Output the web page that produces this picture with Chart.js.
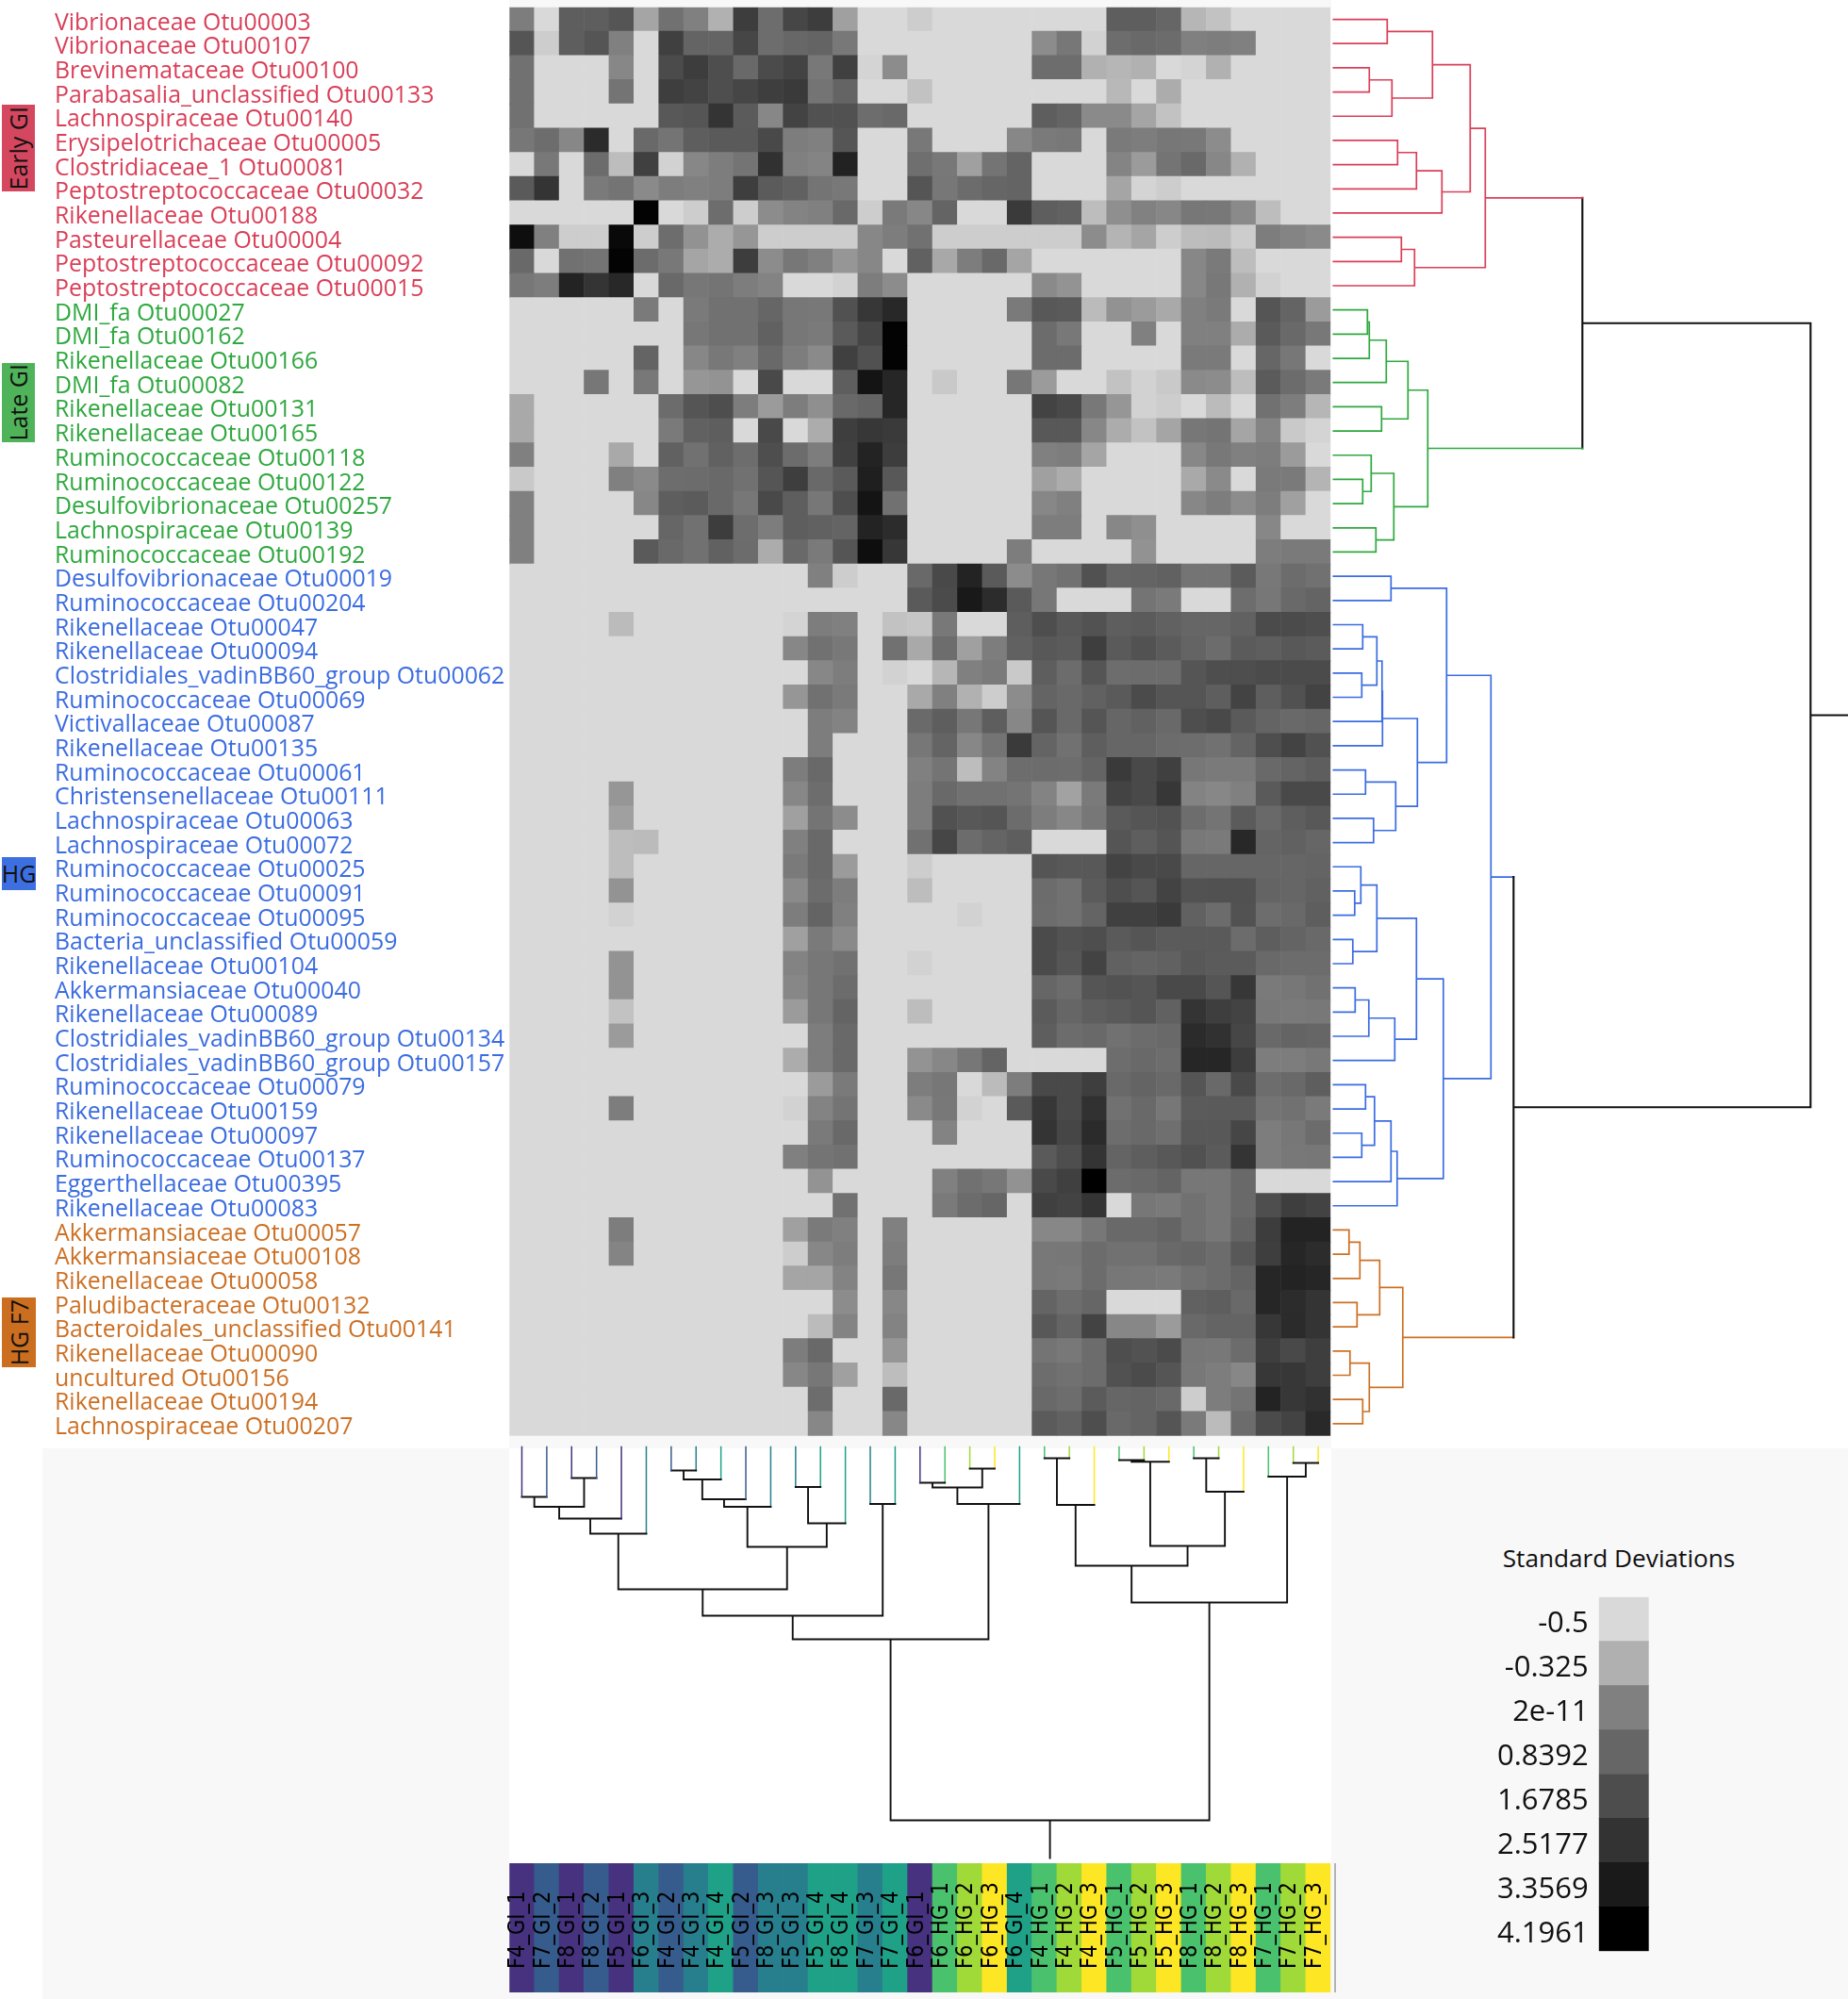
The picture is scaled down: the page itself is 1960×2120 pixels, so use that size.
<!DOCTYPE html>
<html>
<head>
<meta charset="utf-8">
<title>Heatmap</title>
<script src="https://cdn.jsdelivr.net/npm/chart.js@4"></script>
<style>
    html, body { margin: 0; padding: 0; background: #fff; }
    #page { position: relative; width: 1960px; height: 2120px; overflow: hidden; font-family: "Open Sans", sans-serif; color: #111; }
    #page > div, #page > canvas { position: absolute; }
    .tag { display: flex; align-items: center; justify-content: center; font-size: 25px; color: #111; line-height: 1; }
    .rot { writing-mode: vertical-rl; transform: rotate(180deg); }
</style>
</head>
<body>
<div id="page">
    <div style="left:45px;top:1536px;width:1915px;height:584px;background:#f8f8f8"></div>
    <div style="left:540px;top:0;width:872px;height:8px;background:#f8f8f8"></div>
    <div style="left:540px;top:1523px;width:872px;height:13px;background:#f8f8f8"></div>
    <div style="left:540px;top:1536px;width:872px;height:440px;background:#fff"></div>
    <div style="left:1415px;top:1976px;width:2px;height:137px;background:#b4b4b4"></div>

    <div class="tag" style="left:2px;top:111px;width:35px;height:92px;background:#d4475f"><span class="rot">Early GI</span></div>
    <div class="tag" style="left:2px;top:385px;width:35px;height:84px;background:#4fb35a"><span class="rot">Late GI</span></div>
    <div class="tag" style="left:2px;top:909px;width:36px;height:35px;background:#3d6fe0">HG</div>
    <div class="tag" style="left:2px;top:1376px;width:36px;height:74px;background:#cc6e1f"><span class="rot">HG F7</span></div>

    <div style="left:1571px;top:1635px;width:292px;text-align:center;font-size:26.2px;line-height:34px;color:#111">Standard Deviations</div>

    <canvas id="heat" width="1412" height="1530" style="left:0;top:0"></canvas>
    <canvas id="rowTree" width="548" height="1530" style="left:1412px;top:0"></canvas>
    <canvas id="colTree" width="890" height="446" style="left:530px;top:1530px"></canvas>
    <canvas id="strip" width="890" height="150" style="left:530px;top:1970px"></canvas>
    <canvas id="legend" width="220" height="400" style="left:1540px;top:1680px"></canvas>
</div>
<script>
const rowLabels = [
    'Vibrionaceae Otu00003', 'Vibrionaceae Otu00107', 'Brevinemataceae Otu00100', 'Parabasalia_unclassified Otu00133',
    'Lachnospiraceae Otu00140', 'Erysipelotrichaceae Otu00005', 'Clostridiaceae_1 Otu00081', 'Peptostreptococcaceae Otu00032',
    'Rikenellaceae Otu00188', 'Pasteurellaceae Otu00004', 'Peptostreptococcaceae Otu00092', 'Peptostreptococcaceae Otu00015',
    'DMI_fa Otu00027', 'DMI_fa Otu00162', 'Rikenellaceae Otu00166', 'DMI_fa Otu00082', 'Rikenellaceae Otu00131',
    'Rikenellaceae Otu00165', 'Ruminococcaceae Otu00118', 'Ruminococcaceae Otu00122', 'Desulfovibrionaceae Otu00257',
    'Lachnospiraceae Otu00139', 'Ruminococcaceae Otu00192',
    'Desulfovibrionaceae Otu00019', 'Ruminococcaceae Otu00204', 'Rikenellaceae Otu00047', 'Rikenellaceae Otu00094',
    'Clostridiales_vadinBB60_group Otu00062', 'Ruminococcaceae Otu00069', 'Victivallaceae Otu00087', 'Rikenellaceae Otu00135',
    'Ruminococcaceae Otu00061', 'Christensenellaceae Otu00111', 'Lachnospiraceae Otu00063', 'Lachnospiraceae Otu00072',
    'Ruminococcaceae Otu00025', 'Ruminococcaceae Otu00091', 'Ruminococcaceae Otu00095', 'Bacteria_unclassified Otu00059',
    'Rikenellaceae Otu00104', 'Akkermansiaceae Otu00040', 'Rikenellaceae Otu00089', 'Clostridiales_vadinBB60_group Otu00134',
    'Clostridiales_vadinBB60_group Otu00157', 'Ruminococcaceae Otu00079', 'Rikenellaceae Otu00159', 'Rikenellaceae Otu00097',
    'Ruminococcaceae Otu00137', 'Eggerthellaceae Otu00395', 'Rikenellaceae Otu00083',
    'Akkermansiaceae Otu00057', 'Akkermansiaceae Otu00108', 'Rikenellaceae Otu00058', 'Paludibacteraceae Otu00132',
    'Bacteroidales_unclassified Otu00141', 'Rikenellaceae Otu00090', 'uncultured Otu00156', 'Rikenellaceae Otu00194',
    'Lachnospiraceae Otu00207'
];
const rowGroupSizes = [12, 11, 27, 9];
const groupColors = ['#d93f58', '#2fa83f', '#3b6ce0', '#cc7024'];

const sampleLabels = [
    'F4_GI_1', 'F7_GI_2', 'F8_GI_1', 'F8_GI_2', 'F5_GI_1', 'F6_GI_3', 'F4_GI_2', 'F4_GI_3', 'F4_GI_4', 'F5_GI_2', 'F8_GI_3',
    'F5_GI_3', 'F5_GI_4', 'F8_GI_4', 'F7_GI_3', 'F7_GI_4', 'F6_GI_1', 'F6_HG_1', 'F6_HG_2', 'F6_HG_3', 'F6_GI_4', 'F4_HG_1',
    'F4_HG_2', 'F4_HG_3', 'F5_HG_1', 'F5_HG_2', 'F5_HG_3', 'F8_HG_1', 'F8_HG_2', 'F8_HG_3', 'F7_HG_1', 'F7_HG_2', 'F7_HG_3'
];
const sampleColors = {
    GI_1: '#46327e', GI_2: '#365c8d', GI_3: '#277f8e', GI_4: '#1fa187',
    HG_1: '#4ac16d', HG_2: '#a0da39', HG_3: '#fde725'
};

const legendLabels = ['-0.5', '-0.325', '2e-11', '0.8392', '1.6785', '2.5177', '3.3569', '4.1961'];
const legendValues = [-0.5, -0.325, 2e-11, 0.8392, 1.6785, 2.5177, 3.3569, 4.1961];
const legendGreys = [217, 176, 128, 102, 77, 51, 26, 0];

// standard deviations per otu (rows) and sample (columns)
const heatValues = [
    [.1,-.5,1.1,1.1,1.4,-.25,.5,0,-.33,2.2,.6,1.9,2.2,-.22,-.5,-.5,-.45,-.5,-.5,-.5,-.5,-.5,-.5,-.5,1.1,1.1,.85,-.35,-.4,-.5,-.5,-.5,-.5],
    [1.4,-.45,1.1,1.4,0,-.5,2.1,.9,.9,1.9,.6,.8,.9,.25,-.5,-.5,-.5,-.5,-.5,-.5,-.5,-.08,.3,-.47,.6,.75,.65,0,.1,0,-.5,-.5,-.5],
    [.5,-.5,-.5,-.5,-.05,-.5,1.75,2.2,1.65,.75,1.75,2,.25,2.1,-.48,-.08,-.5,-.5,-.5,-.5,-.5,.6,.6,-.33,-.35,-.33,-.5,-.48,-.33,-.5,-.5,-.5,-.5],
    [.5,-.5,-.5,-.5,.4,-.5,2.15,2,1.65,1.9,2.15,2.3,.4,.9,-.5,-.5,-.4,-.5,-.5,-.5,-.5,-.5,-.5,-.5,-.36,-.5,-.3,-.5,-.5,-.5,-.5,-.5,-.5],
    [.5,-.5,-.5,-.5,-.5,-.5,1.3,1.4,2.5,1.2,-.05,2,1.55,1.55,.6,.75,-.5,-.5,-.5,-.5,-.5,1.1,.9,-.07,-.07,-.25,-.4,-.5,-.5,-.5,-.5,-.5,-.5],
    [.3,.6,-.05,2.8,-.5,.75,.4,1.1,1.25,1.25,1.8,.1,0,1.4,-.5,-.5,.25,-.5,-.5,-.5,-.05,.2,.25,-.5,.2,.1,.3,.25,-.08,-.5,-.5,-.5,-.5],
    [-.5,.25,-.5,.65,-.38,2.1,-.47,-.05,.1,.4,2.6,0,-.03,3.1,-.5,-.5,.55,.25,-.22,.4,.9,-.5,-.5,-.5,-.03,-.18,.4,.75,-.05,-.33,-.5,-.5,-.5],
    [1.25,2.5,-.5,.2,.4,-.07,.1,0,.1,2.15,1.2,1,.4,.25,-.5,-.5,1.4,.3,.65,.85,.9,-.5,-.5,-.5,-.25,-.48,-.45,-.5,-.5,-.5,-.5,-.5,-.5],
    [-.5,-.5,-.5,-.5,-.5,4.1,-.5,-.45,.6,-.45,-.08,-.02,0,.75,-.45,.2,-.05,.9,-.5,-.5,2.3,1.1,1,-.38,-.1,-.01,-.05,.3,.25,-.07,-.38,-.5,-.5],
    [3.75,0,-.45,-.45,3.9,-.45,.6,-.12,-.3,-.15,-.45,-.45,-.45,-.45,-.05,.1,.5,-.45,-.45,-.45,-.45,-.45,-.45,-.08,-.34,-.25,-.45,-.38,-.37,-.45,.1,-.03,-.07],
    [.75,-.5,.5,.4,4.1,.65,.25,-.25,-.3,2.2,-.08,.3,0,-.15,-.05,-.5,1,-.27,.1,.75,-.25,-.5,-.5,-.5,-.5,-.5,-.5,-.05,.2,-.38,-.5,-.5,-.5],
    [.3,.1,3.05,2.5,2.9,-.5,.75,.3,.4,.1,-.02,-.5,-.5,-.47,.1,-.08,-.5,-.5,-.5,-.5,-.5,-.07,-.13,-.5,-.5,-.5,-.5,-.05,.25,-.33,-.47,-.5,-.5],
    [-.5,-.5,-.5,-.5,-.5,.2,-.5,.2,.5,.5,.85,.3,.25,1.55,2.4,2.9,-.5,-.5,-.5,-.5,.2,1.3,1.25,-.37,-.12,-.18,-.28,0,.2,-.5,1.4,.9,-.18],
    [-.5,-.5,-.5,-.5,-.5,-.5,-.5,.3,.5,.5,1,.3,.2,1.25,1.9,4.1,-.5,-.5,-.5,-.5,-.5,.65,.25,-.5,-.5,0,-.5,0,0,-.3,1.25,.75,.25],
    [-.5,-.5,-.5,-.5,-.5,.9,-.5,-.05,.25,0,.75,.1,-.07,2.1,1.55,4.1,-.5,-.5,-.5,-.5,-.5,.65,.65,-.5,-.5,-.5,-.5,.2,.2,-.5,.85,.3,-.5],
    [-.5,-.5,-.5,.3,-.5,.25,-.5,-.15,-.13,-.5,1.8,-.5,-.5,1.1,3.55,2.95,-.5,-.43,-.5,-.5,.3,-.18,-.5,-.5,-.4,-.47,-.43,-.07,-.08,-.38,1.2,.65,.2],
    [-.28,-.5,-.5,-.5,-.5,-.5,.65,1.4,1.65,.1,-.18,.1,-.1,.75,.9,2.95,-.5,-.5,-.5,-.5,-.5,2,1.8,.25,-.15,-.47,-.45,-.5,-.37,-.5,.5,.1,-.35],
    [-.28,-.5,-.5,-.5,-.5,-.5,.2,1,1.1,-.5,1.8,-.5,-.3,2.15,2.4,2.3,-.5,-.5,-.5,-.5,-.5,1.3,1.3,-.05,-.3,-.4,-.25,.3,.4,-.25,-.03,-.43,-.48],
    [0,-.5,-.5,-.5,-.28,-.5,1,.5,1,.6,1.65,.65,.1,2.1,3.05,2.2,-.5,-.5,-.5,-.5,-.5,0,.1,-.25,-.5,-.5,-.5,-.05,.25,0,.1,-.18,-.5],
    [-.43,-.5,-.5,-.5,0,-.07,.6,.65,.75,.5,1.4,2.15,.75,1.25,3.2,1.3,-.5,-.5,-.5,-.5,-.5,-.22,-.3,-.5,-.5,-.5,-.5,-.28,-.07,-.5,.2,.2,-.34],
    [0,-.5,-.5,-.5,-.5,-.05,1.1,1.2,.75,.3,1.8,1.1,.3,1.65,3.55,.5,-.5,-.5,-.5,-.5,-.5,-.05,0,-.5,-.5,-.5,-.5,-.05,.1,-.08,.1,-.22,-.5],
    [0,-.5,-.5,-.5,-.5,-.5,.85,.5,2.2,.6,.1,1.1,1,.9,3.05,2.75,-.5,-.5,-.5,-.5,-.5,.1,.1,-.5,-.05,-.1,-.5,-.5,-.5,-.5,-.05,-.5,-.5],
    [0,-.5,-.5,-.5,-.5,1.25,.75,.5,1,.65,-.3,.75,.2,1.4,3.75,2.4,-.5,-.5,-.5,-.5,.1,-.5,-.5,-.5,-.5,-.12,-.5,-.5,-.5,-.5,.1,.2,.2],
    [-.5,-.5,-.5,-.5,-.5,-.5,-.5,-.5,-.5,-.5,-.5,-.5,0,-.45,-.5,-.5,.75,1.8,3.05,1.25,-.08,.3,.5,1.55,.85,.9,1,.4,.4,1.2,.25,.65,.5],
    [-.5,-.5,-.5,-.5,-.5,-.5,-.5,-.5,-.5,-.5,-.5,-.5,-.5,-.5,-.5,-.5,1.25,1.75,3.4,2.75,1.25,.3,-.5,-.5,-.5,.4,.2,-.5,-.5,.6,.3,.75,.9],
    [-.5,-.5,-.5,-.5,-.37,-.5,-.5,-.5,-.5,-.5,-.5,-.48,.1,0,-.5,-.4,-.42,.25,-.5,-.5,1.1,1.65,1.3,1.5,1.1,1.2,1,.85,.85,1,1.75,1.75,1.65],
    [-.5,-.5,-.5,-.5,-.5,-.5,-.5,-.5,-.5,-.5,-.5,-.05,.5,.25,-.5,.5,-.28,.6,-.22,.1,1,1.3,1.2,2.15,1.25,1.5,1.2,.9,.65,1.2,1.1,1.3,1.2],
    [-.5,-.5,-.5,-.5,-.5,-.5,-.5,-.5,-.5,-.5,-.5,-.5,-.05,.1,-.5,-.47,-.5,-.35,0,.2,-.43,1.1,.65,1.4,.6,.65,.65,1.4,1.65,1.65,1.75,1.75,1.75],
    [-.5,-.5,-.5,-.5,-.5,-.5,-.5,-.5,-.5,-.5,-.5,-.15,.5,.2,-.5,-.5,-.28,0,-.33,-.45,-.08,.9,.75,1,1.25,1.75,1.4,1.4,1.1,2,1.1,1.55,2],
    [-.5,-.5,-.5,-.5,-.5,-.5,-.5,-.5,-.5,-.5,-.5,-.5,.1,-.02,-.5,-.5,.7,1.1,.3,1.1,-.05,1.4,.75,1.4,.85,1,.75,1.65,1.8,1.25,.9,.75,.85],
    [-.5,-.5,-.5,-.5,-.5,-.5,-.5,-.5,-.5,-.5,-.5,-.5,.1,-.5,-.5,-.5,.3,.9,-.05,.4,2.3,.9,.5,1.1,.85,.85,.65,.6,.5,.9,1.65,2,1.55],
    [-.5,-.5,-.5,-.5,-.5,-.5,-.5,-.5,-.5,-.5,-.5,.1,.75,-.5,-.5,-.5,0,.4,-.38,-.02,.6,.65,.6,.9,2.3,1.8,2.1,.3,.2,.2,.75,.9,1.1],
    [-.5,-.5,-.5,-.5,-.15,-.5,-.5,-.5,-.5,-.5,-.5,-.05,.6,-.5,-.5,-.5,.1,.75,.5,.5,.4,-.02,-.23,.2,2,1.8,2.4,-.02,-.05,0,1.25,1.8,1.8],
    [-.5,-.5,-.5,-.5,-.22,-.5,-.5,-.5,-.5,-.5,-.5,-.22,.4,-.08,-.5,-.5,.1,1.55,1.3,1.4,.65,.1,-.05,.3,1.25,1.4,1.5,.6,.4,1.2,.75,1.1,1.3],
    [-.5,-.5,-.5,-.5,-.38,-.37,-.5,-.5,-.5,-.5,-.5,0,.75,-.5,-.5,-.5,.5,1.9,.65,.9,1.1,-.5,-.5,-.5,1.4,1.1,1.4,.25,.2,2.9,.9,1,.85],
    [-.5,-.5,-.5,-.5,-.38,-.5,-.5,-.5,-.5,-.5,-.5,.2,.75,-.18,-.5,-.5,-.45,-.5,-.5,-.5,-.5,1.4,1.3,1.3,2,1.8,1.8,.85,.85,.85,.85,.85,.9],
    [-.5,-.5,-.5,-.5,-.13,-.5,-.5,-.5,-.5,-.5,-.5,-.07,.65,.1,-.5,-.5,-.38,-.5,-.5,-.5,-.5,.65,.5,1.2,1.65,1.4,2,1.5,1.55,1.55,.9,.85,1],
    [-.5,-.5,-.5,-.5,-.47,-.5,-.5,-.5,-.5,-.5,-.5,.1,.9,0,-.5,-.5,-.5,-.5,-.47,-.5,-.5,.6,.5,.9,2.1,2.1,2.3,1,.65,1.5,.6,.75,1.1],
    [-.5,-.5,-.5,-.5,-.5,-.5,-.5,-.5,-.5,-.5,-.5,-.22,.2,-.07,-.5,-.5,-.5,-.5,-.5,-.5,-.5,1.75,1.5,1.65,1.25,1.4,1.2,1.25,1.25,.65,1.1,.9,.75],
    [-.5,-.5,-.5,-.5,-.13,-.5,-.5,-.5,-.5,-.5,-.5,-.02,.3,.5,-.5,-.5,-.47,-.5,-.5,-.5,-.5,1.75,1.4,2,1,.9,1,1.3,1.2,1.2,.75,.65,.65],
    [-.5,-.5,-.5,-.5,-.13,-.5,-.5,-.5,-.5,-.5,-.5,-.05,.3,.65,-.5,-.5,-.5,-.5,-.5,-.5,-.5,.85,.65,1.4,1.5,1.4,1.8,1.8,1.4,2.4,.2,.3,.5],
    [-.5,-.5,-.5,-.5,-.4,-.5,-.5,-.5,-.5,-.5,-.5,-.18,.3,.9,-.5,-.5,-.38,-.5,-.5,-.5,-.5,1.2,.85,1.1,1.25,1.4,1,2.5,2.15,2,.25,.2,.25],
    [-.5,-.5,-.5,-.5,-.18,-.5,-.5,-.5,-.5,-.5,-.5,-.5,.1,.75,-.5,-.5,-.5,-.5,-.5,-.5,-.5,1.1,.65,.75,.5,.65,.75,2.8,2.6,1.9,.75,.9,.85],
    [-.5,-.5,-.5,-.5,-.5,-.5,-.5,-.5,-.5,-.5,-.5,-.3,.1,.75,-.5,-.5,-.13,-.05,.3,.9,-.5,-.5,-.5,-.5,.6,.75,.6,2.95,2.95,2.2,.1,.1,.25],
    [-.5,-.5,-.5,-.5,-.5,-.5,-.5,-.5,-.5,-.5,-.5,-.5,-.18,.2,-.5,-.5,.1,.3,-.5,-.37,.1,1.8,1.8,2.15,.75,.9,.75,1.4,.75,1.8,.6,.75,1.1],
    [-.5,-.5,-.5,-.5,.1,-.5,-.5,-.5,-.5,-.5,-.5,-.47,-.02,.4,-.5,-.5,-.07,.25,-.47,-.5,1.25,2.4,1.8,2.6,.5,.75,.3,1.2,1.25,1.25,.4,.5,.2],
    [-.5,-.5,-.5,-.5,-.5,-.5,-.5,-.5,-.5,-.5,-.5,-.5,.2,.75,-.5,-.5,-.5,-.02,-.5,-.5,-.5,2.5,1.9,2.8,.6,.75,.55,1.3,1.3,1.9,.1,.3,.65],
    [-.5,-.5,-.5,-.5,-.5,-.5,-.5,-.5,-.5,-.5,-.5,0,.4,.5,-.5,-.5,-.5,-.5,-.5,-.5,-.5,1.25,1.65,2.5,.9,1.1,1.3,1.55,1.2,2.5,.1,.25,.3],
    [-.5,-.5,-.5,-.5,-.5,-.5,-.5,-.5,-.5,-.5,-.5,-.5,-.13,-.5,-.5,-.5,-.5,0,.5,.3,-.12,1.8,2.1,4.2,.65,.75,.9,.3,.3,.75,-.5,-.5,-.5],
    [-.5,-.5,-.5,-.5,-.5,-.5,-.5,-.5,-.5,-.5,-.5,-.5,-.5,.5,-.5,-.5,-.5,.2,.65,.85,-.5,2.1,2,2.5,-.5,.3,.2,.5,.3,.75,1.65,2.15,2],
    [-.5,-.5,-.5,-.5,.1,-.5,-.5,-.5,-.5,-.5,-.5,-.22,.2,0,-.5,0,-.5,-.5,-.5,-.5,-.5,-.05,-.05,.3,.75,.75,.9,.5,.3,.9,2.2,3.05,3.05],
    [-.5,-.5,-.5,-.5,-.03,-.5,-.5,-.5,-.5,-.5,-.5,-.45,-.05,.1,-.5,.1,-.5,-.5,-.5,-.5,-.5,.25,.3,.65,.5,.5,.75,.85,.65,1.3,2.15,2.95,2.75],
    [-.5,-.5,-.5,-.5,-.5,-.5,-.5,-.5,-.5,-.5,-.5,-.25,-.25,-.02,-.5,.3,-.5,-.5,-.5,-.5,-.5,.25,.2,.65,.3,.25,.2,.5,.65,.9,2.95,3.05,2.95],
    [-.5,-.5,-.5,-.5,-.5,-.5,-.5,-.5,-.5,-.5,-.5,-.5,-.5,-.08,-.5,-.05,-.5,-.5,-.5,-.5,-.5,.9,.6,.85,-.5,-.5,-.5,1,1.1,.75,2.95,2.75,2.5],
    [-.5,-.5,-.5,-.5,-.5,-.5,-.5,-.5,-.5,-.5,-.5,-.5,-.37,-.02,-.5,-.02,-.5,-.5,-.5,-.5,-.5,1.3,.9,2,-.05,-.05,-.18,.75,.9,.9,2.4,2.8,2.5],
    [-.5,-.5,-.5,-.5,-.5,-.5,-.5,-.5,-.5,-.5,-.5,.1,.75,-.5,-.5,-.15,-.5,-.5,-.5,-.5,-.5,.4,.25,.65,1.65,1.5,1.75,.3,.25,.65,2.15,1.8,2.15],
    [-.5,-.5,-.5,-.5,-.5,-.5,-.5,-.5,-.5,-.5,-.5,-.05,.3,-.22,-.5,-.38,-.5,-.5,-.5,-.5,-.5,.6,.5,.65,1.55,1.75,1.4,.25,.1,-.05,2.4,2.4,2.15],
    [-.5,-.5,-.5,-.5,-.5,-.5,-.5,-.5,-.5,-.5,-.5,-.5,.6,-.5,-.5,.75,-.5,-.5,-.5,-.5,-.5,.75,.6,1.2,.85,.9,.75,-.45,.1,.4,3.05,2.4,2.6],
    [-.5,-.5,-.5,-.5,-.5,-.5,-.5,-.5,-.5,-.5,-.5,-.5,-.05,-.5,-.5,-.05,-.5,-.5,-.5,-.5,-.5,1.2,1,1.65,.75,.9,1.4,.2,-.37,.65,1.75,2,2.85]
];

// merges as [childA, childB, height]; ids below n are leaves, n+k is the k-th merge
const rowMerges = [
    [0,1,.57],[2,3,.38],[60,4,.62],[59,61,1.05],[5,6,.68],[63,7,.88],[64,8,1.15],[62,65,1.45],[9,10,.72],[67,11,.86],[66,68,1.61],
    [12,13,.36],[70,14,.38],[71,15,.56],[16,17,.51],[72,73,.79],[19,20,.31],[18,75,.4],[21,22,.45],[76,77,.64],[74,78,1],
    [69,79,2.64],
    [23,24,.61],[25,26,.31],[27,28,.3],[82,83,.46],[84,29,.515],[85,30,.52],[31,32,.34],[33,34,.425],[87,88,.66],[86,89,.89],[81,90,1.2],
    [36,37,.225],[35,92,.29],[38,39,.205],[93,94,.46],[40,41,.23],[96,42,.375],[97,43,.65],[95,98,.88],
    [44,45,.34],[46,47,.3],[100,101,.435],[102,48,.61],[103,49,.675],[99,104,1.165],[91,105,1.67],
    [50,51,.165],[107,52,.28],[53,54,.25],[108,109,.49],[55,56,.175],[57,58,.31],[111,112,.38],[110,113,.735],
    [106,114,1.91],[80,115,5.06]
];
const rowStem = 5.46;

const colMerges = [
    [0,1,.53],[2,3,.33],[33,34,.635],[35,4,.76],[36,5,.92],[6,7,.25],[38,8,.345],[39,9,.555],[40,10,.635],[11,12,.425],[42,13,.81],
    [41,43,1.06],[37,44,1.51],[14,15,.605],[45,46,1.79],[16,17,.38],[18,19,.23],[48,49,.43],[50,20,.605],[47,51,2.04],
    [21,22,.12],[53,23,.615],[24,25,.14],[55,26,.157],[27,28,.12],[57,29,.475],[56,58,1.05],[54,59,1.26],[31,32,.17],[30,61,.315],
    [60,62,1.65],[52,63,3.96]
];
const colStem = 4.36;

const LABEL_FONT = '"Open Sans", sans-serif';
Chart.defaults.font.family = LABEL_FONT;
Chart.defaults.animation = false;
Chart.defaults.responsive = false;
Chart.defaults.layout.autoPadding = false;
Chart.defaults.plugins.legend.display = false;
Chart.defaults.plugins.tooltip.enabled = false;

const rowGroup = [];
rowGroupSizes.forEach((size, g) => {
    for (let i = 0; i < size; i++) rowGroup.push(g);
});

function greyFor(v) {
    let i = 1;
    while (i < legendValues.length - 1 && v > legendValues[i]) i++;
    const t = Math.min(1, Math.max(0, (v - legendValues[i - 1]) / (legendValues[i] - legendValues[i - 1])));
    const g = Math.round(legendGreys[i - 1] + (legendGreys[i] - legendGreys[i - 1]) * t);
    return `rgb(${g},${g},${g})`;
}

function sampleColor(label) {
    return sampleColors[label.slice(3)];
}

// tick labels must not push the chart area in, the axis width is fixed too
function fixAxis(width) {
    return scale => {
        scale.width = width;
        scale.paddingTop = 0;
        scale.paddingBottom = 0;
    };
}

// one scatter dataset per colour, pieces split with null points
function treeDatasets(merges, n, stem, horizontal, leafColor, nodeColor, width) {
    const pos = [], height = [], color = [];
    for (let i = 0; i < n; i++) {
        pos.push(i);
        height.push(0);
        color.push(leafColor(i));
    }
    const pieces = {};
    const add = (c, h1, p1, h2, p2) => {
        if (!pieces[c]) pieces[c] = [];
        const a = horizontal ? {x: h1, y: p1} : {x: p1, y: h1};
        const b = horizontal ? {x: h2, y: p2} : {x: p2, y: h2};
        pieces[c].push(a, b, {x: null, y: null});
    };
    merges.forEach(([a, b, h]) => {
        const c = nodeColor(color[a], color[b]);
        add(color[a], height[a], pos[a], h, pos[a]);
        add(color[b], height[b], pos[b], h, pos[b]);
        add(c, h, pos[a], h, pos[b]);
        pos.push((pos[a] + pos[b]) / 2);
        height.push(h);
        color.push(c);
    });
    const last = pos.length - 1;
    add('#111111', height[last], pos[last], stem, pos[last]);
    return Object.keys(pieces).map(c => ({
        data: pieces[c],
        showLine: true,
        borderColor: c,
        borderWidth: c === '#111111' ? width + 0.4 : width,
        borderCapStyle: 'square',
        pointRadius: 0,
        spanGaps: false,
        clip: false
    }));
}

const heatPoints = [];
heatValues.forEach((row, r) => {
    row.forEach((v, c) => {
        heatPoints.push({x: sampleLabels[c], y: rowLabels[r], v});
    });
});

new Chart(document.getElementById('heat'), {
    type: 'scatter',
    data: {
        datasets: [{
            data: heatPoints,
            pointStyle: 'rect',
            pointRadius: 19.05,
            pointHoverRadius: 19.05,
            pointBorderWidth: 0,
            pointBackgroundColor: ctx => greyFor(ctx.raw.v),
            clip: 0
        }]
    },
    options: {
        layout: {padding: {left: 58, top: 7.7, right: 0.7, bottom: 7.3}},
        scales: {
            x: {type: 'category', labels: sampleLabels, offset: true, display: false},
            y: {
                type: 'category',
                labels: rowLabels,
                offset: true,
                afterFit: fixAxis(482.3),
                grid: {display: false, drawTicks: false},
                border: {display: false},
                ticks: {
                    autoSkip: false,
                    crossAlign: 'far',
                    padding: 0,
                    labelOffset: 4,
                    color: ctx => groupColors[rowGroup[ctx.index]],
                    font: {family: LABEL_FONT, size: 24.9}
                }
            }
        }
    }
});

new Chart(document.getElementById('rowTree'), {
    type: 'scatter',
    data: {
        datasets: treeDatasets(rowMerges, rowLabels.length, rowStem, true,
            i => groupColors[rowGroup[i]],
            (a, b) => (a === b ? a : '#111111'), 1.7)
    },
    options: {
        layout: {padding: {left: 2.3, top: 7.7, right: 0, bottom: 7.3}},
        scales: {
            x: {type: 'linear', min: 0, max: 5.457, display: false},
            y: {type: 'linear', min: -0.5, max: 58.5, reverse: true, display: false}
        }
    }
});

new Chart(document.getElementById('colTree'), {
    type: 'scatter',
    data: {
        datasets: treeDatasets(colMerges, sampleLabels.length, colStem, false,
            i => sampleColor(sampleLabels[i]),
            () => '#111111', 1.5)
    },
    options: {
        layout: {padding: {left: 10.3, top: 4.5, right: 8.7, bottom: 0}},
        scales: {
            x: {type: 'linear', min: -0.5, max: 32.5, display: false},
            y: {type: 'linear', min: 0, max: 4.415, reverse: true, display: false}
        }
    }
});

// sample names written inside the colour strip, reading upwards from a common base
const stripLabels = {
    id: 'stripLabels',
    afterDatasetsDraw(chart) {
        const {ctx, scales, chartArea} = chart;
        ctx.save();
        ctx.font = '21px "DejaVu Sans"';
        ctx.fillStyle = '#000';
        ctx.textAlign = 'left';
        ctx.textBaseline = 'middle';
        sampleLabels.forEach((label, i) => {
            ctx.save();
            ctx.translate(scales.x.getPixelForValue(i) - 3.5, chartArea.bottom - 25);
            ctx.rotate(-Math.PI / 2);
            ctx.scale(1, 1.15);
            ctx.fillText(label, 0, 0);
            ctx.restore();
        });
        ctx.restore();
    }
};

new Chart(document.getElementById('strip'), {
    type: 'bar',
    data: {
        labels: sampleLabels,
        datasets: [{
            data: sampleLabels.map(() => 1),
            backgroundColor: sampleLabels.map(sampleColor),
            barPercentage: 1,
            categoryPercentage: 1,
            borderWidth: 0
        }]
    },
    options: {
        layout: {padding: {left: 10.3, top: 6, right: 8.7, bottom: 7}},
        scales: {
            x: {display: false},
            y: {min: 0, max: 1, display: false}
        }
    },
    plugins: [stripLabels]
});

new Chart(document.getElementById('legend'), {
    type: 'bar',
    data: {
        labels: legendLabels,
        datasets: [{
            data: legendLabels.map(() => 1),
            backgroundColor: legendValues.map(greyFor),
            barPercentage: 1,
            categoryPercentage: 1,
            borderWidth: 0
        }]
    },
    options: {
        indexAxis: 'y',
        layout: {padding: {top: 13.7, right: 11.3, bottom: 10.7}},
        scales: {
            x: {min: 0, max: 1, display: false},
            y: {
                afterFit: fixAxis(155.7),
                grid: {display: false, drawTicks: false},
                border: {display: false},
                ticks: {padding: 11, labelOffset: 5, color: '#111', font: {family: LABEL_FONT, size: 31}}
            }
        }
    }
});
</script>
</body>
</html>
